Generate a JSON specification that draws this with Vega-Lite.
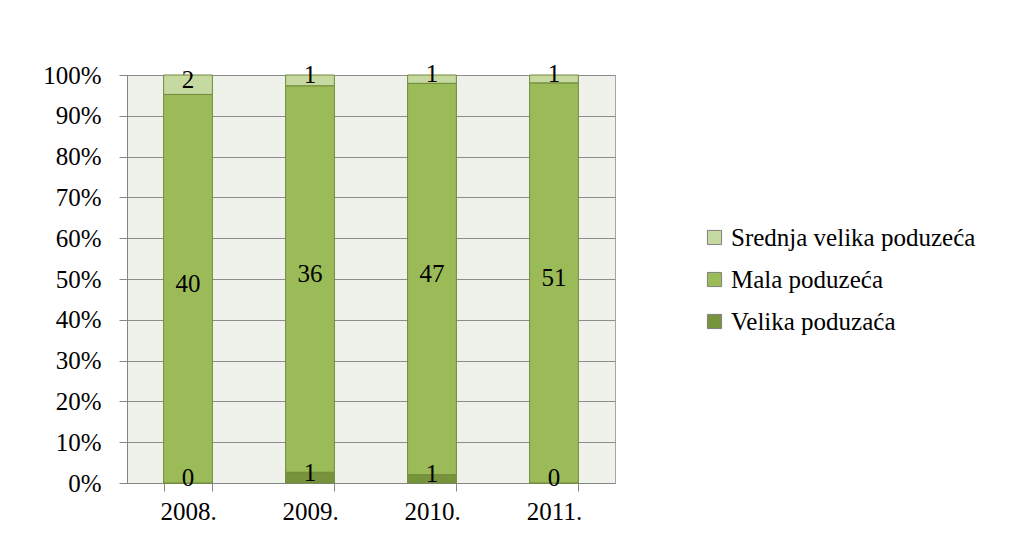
{
  "$schema": "https://vega.github.io/schema/vega-lite/v6.json",
  "autosize": {"type": "none"},
  "padding": {"left": 127, "top": 75, "right": 408, "bottom": 58},
  "width": 488,
  "height": 408,
  "background": "white",
  "config": {
    "font": "Times New Roman, Liberation Serif, serif",
    "view": {"fill": "#eff2ea", "stroke": "#a6a6a6", "strokeWidth": 1},
    "axis": {"labelFont": "Times New Roman, Liberation Serif, serif", "labelFontSize": 25, "labelColor": "#000000", "domainColor": "#868686", "tickColor": "#868686", "title": null}
  },
  "data": {
    "values": [
      {"year": "2008.", "s": "Velika poduzaća", "v": 0},
      {"year": "2008.", "s": "Mala poduzeća", "v": 40},
      {"year": "2008.", "s": "Srednja velika poduzeća", "v": 2},
      {"year": "2009.", "s": "Velika poduzaća", "v": 1},
      {"year": "2009.", "s": "Mala poduzeća", "v": 36},
      {"year": "2009.", "s": "Srednja velika poduzeća", "v": 1},
      {"year": "2010.", "s": "Velika poduzaća", "v": 1},
      {"year": "2010.", "s": "Mala poduzeća", "v": 47},
      {"year": "2010.", "s": "Srednja velika poduzeća", "v": 1},
      {"year": "2011.", "s": "Velika poduzaća", "v": 0},
      {"year": "2011.", "s": "Mala poduzeća", "v": 51},
      {"year": "2011.", "s": "Srednja velika poduzeća", "v": 1}
    ]
  },
  "transform": [
    {"calculate": "indexof(['Velika poduzaća','Mala poduzeća','Srednja velika poduzeća'], datum.s)", "as": "o"},
    {"stack": "v", "groupby": ["year"], "offset": "normalize", "sort": [{"field": "o", "order": "ascending"}], "as": ["y0", "y1"]},
    {"calculate": "(datum.y0 + datum.y1) / 2", "as": "mid"}
  ],
  "encoding": {
    "x": {
      "field": "year", "type": "nominal",
      "scale": {"paddingInner": 0.6, "paddingOuter": 0.3},
      "axis": {"labelAngle": 0, "tickBand": "extent", "tickSize": 8, "labelPadding": 8, "grid": false}
    }
  },
  "layer": [
    {
      "mark": {"type": "bar", "stroke": "#71893a", "strokeWidth": 1},
      "encoding": {
        "y": {
          "field": "y0", "type": "quantitative",
          "scale": {"domain": [0, 1], "nice": false},
          "axis": {"format": ".0%", "values": [0, 0.1, 0.2, 0.3, 0.4, 0.5, 0.6, 0.7, 0.8, 0.9, 1], "grid": true, "gridColor": "#8c8c8c", "tickSize": 8, "labelPadding": 18}
        },
        "y2": {"field": "y1"},
        "color": {
          "field": "s", "type": "nominal",
          "scale": {"domain": ["Srednja velika poduzeća", "Mala poduzeća", "Velika poduzaća"], "range": ["#c6d9a0", "#9bbb59", "#77933c"]},
          "legend": {
            "title": null, "orient": "none", "legendX": 575, "legendY": 150,
            "labelFont": "Times New Roman, Liberation Serif, serif", "labelFontSize": 25, "labelColor": "#000000", "labelLimit": 400,
            "symbolType": "square", "symbolSize": 200, "symbolStrokeColor": "#7f7f7f", "symbolStrokeWidth": 1,
            "rowPadding": 16, "labelOffset": 4
          }
        }
      }
    },
    {
      "mark": {"type": "text", "fontSize": 25, "font": "Times New Roman, Liberation Serif, serif", "color": "#000000", "baseline": "middle", "dy": -5},
      "encoding": {
        "y": {"field": "mid", "type": "quantitative"},
        "text": {"field": "v", "type": "quantitative"}
      }
    }
  ]
}
